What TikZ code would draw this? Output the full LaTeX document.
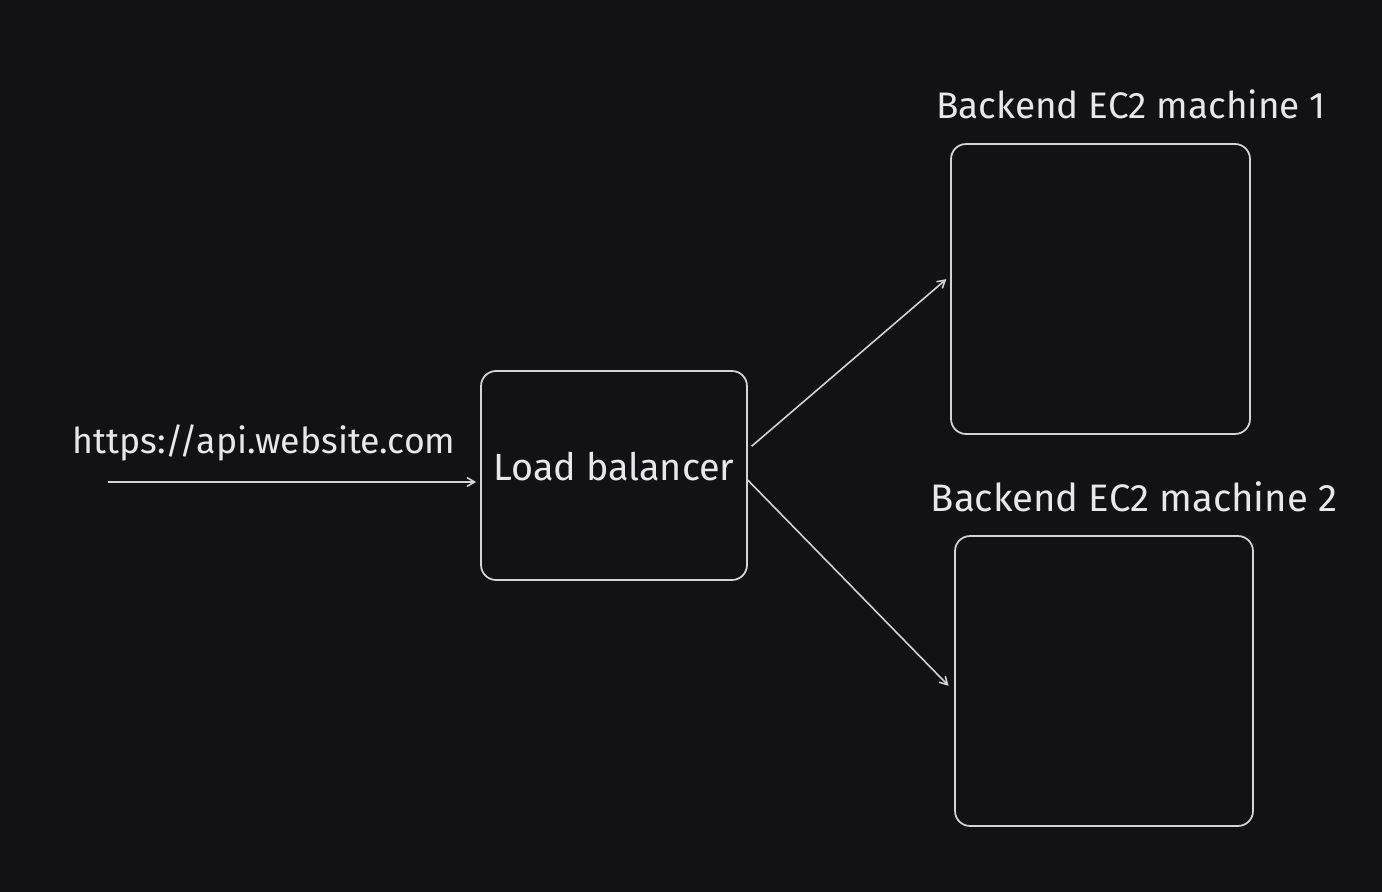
\documentclass[tikz,border=0pt]{standalone}
\usepackage{fontspec}
\setmainfont{Fira Sans}
\usepackage{xcolor}
\usepackage{tikz}
\usetikzlibrary{arrows}

\definecolor{boardbg}{HTML}{121214}
\definecolor{chalk}{HTML}{D4D4D4}
\definecolor{chalktext}{HTML}{E8E8E8}

\tikzset{
    box/.style = {draw = chalk, line width = 1pt, rounded corners = 0.3cm},
    caption/.style = {text = chalktext, font = \fontsize{21}{25}\selectfont},
    link/.style = {draw = chalk, line width = 0.9pt, ->, >=angle 60}
}

\begin{document}
\begin{tikzpicture}[x = 0.02cm, y = -0.02cm]
        \fill[boardbg] (0, 0) rectangle (1382, 892);

        \node[box, minimum width = 5.32cm, minimum height = 4.18cm] (lb) at (614, 475.5) {};
        \node[caption, font = \fontsize{21.5}{25}\selectfont] (lbtext) at (614, 467) {Load balancer};

        \node[box, minimum width = 5.98cm, minimum height = 5.8cm] (ec2a) at (1100.5, 289) {};
        \node[caption] (ec2atext) at (1131, 104) {Backend EC2 machine 1};

        \node[box, minimum width = 5.96cm, minimum height = 5.8cm] (ec2b) at (1104, 681) {};
        \node[caption, font = \fontsize{21.8}{26}\selectfont] (ec2btext) at (1134, 497) {Backend EC2 machine 2};

        \node[caption, font = \fontsize{20.3}{24}\selectfont] (url) at (264, 443) {https://api.website.com};
        \coordinate (client) at (108, 482);

        \draw[link] (client) -- ([xshift = -0.08cm] client -| lb.west);
        \draw[link, shorten < = 0.1cm, shorten > = 0.1cm] (lb.11) -- (ec2a.175);
        \draw[link, shorten > = 0.16cm] (lb.-2) -- (ec2b.184);
    \end{tikzpicture}
\end{document}
